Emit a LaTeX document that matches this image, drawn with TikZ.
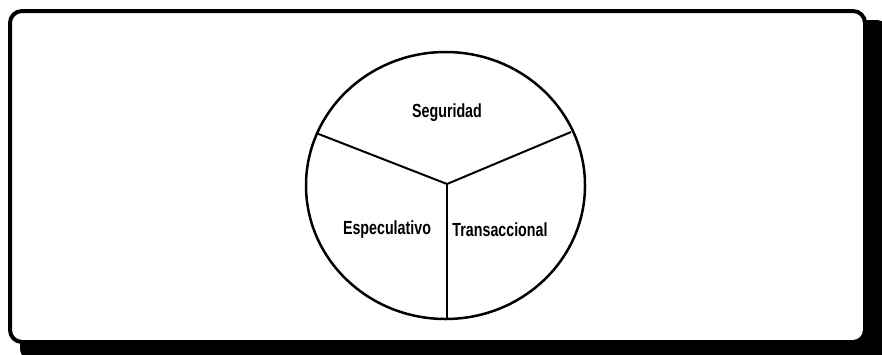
\documentclass[tikz,border=0pt]{standalone}
\usepackage{fontspec}
\newfontfamily\cnfont[FakeStretch=0.75]{Liberation Sans}
\usetikzlibrary{positioning}
\tikzset{sector/.style={font=\cnfont\bfseries\fontsize{9.5}{11}\selectfont, inner sep=0pt},
  spoke/.style={line width=1pt}}

\begin{document}
\begin{tikzpicture}[x=0.5pt, y=-0.5pt]
  \clip (0,0) rectangle (882,354);
  % frame with shadow
  \fill[black, rounded corners=7pt] (20,20) rectangle (890,362);
  \draw[line width=2pt, fill=white, rounded corners=6pt] (10,11) rectangle (865,342);
  % circle
  \coordinate (hub) at (447,184);
  \draw[line width=1.25pt] (445.5,185.5) ellipse [x radius=139.5, y radius=133.5];
  \coordinate (lend) at (316,133);
  \coordinate (rend) at (571,132);
  \coordinate (dend) at (447,319);
  \draw[spoke] (lend) -- (hub) -- (rend);
  \draw[spoke] (hub) -- (dend);
  % sectors
  \node[sector] (seg) at (447,113) {Seguridad};
  \node[sector] (esp) at (387,230) {Especulativo};
  \node[sector] (tra) at (500,230) {Transaccional};
\end{tikzpicture}
\end{document}
